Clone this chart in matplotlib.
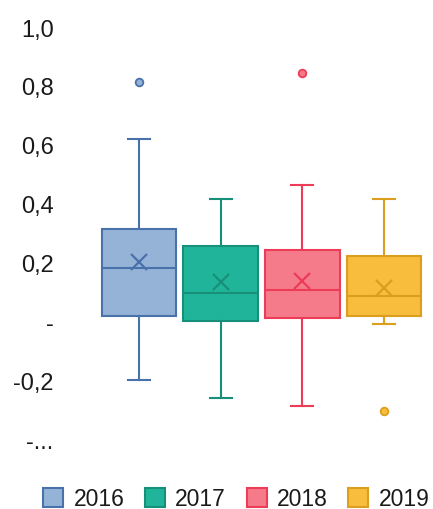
import matplotlib.pyplot as plt
from matplotlib.patches import Patch

plt.rcParams['font.family'] = ['Liberation Sans', 'DejaVu Sans']

# values
years = ["2016", "2017", "2018", "2019"]
q1 = [0.020, 0.003, 0.014, 0.020]
q3 = [0.315, 0.258, 0.244, 0.224]
med = [0.183, 0.100, 0.108, 0.088]
mean = [0.203, 0.135, 0.139, 0.115]
whislo = [-0.197, -0.258, -0.285, -0.007]
whishi = [0.620, 0.417, 0.464, 0.417]
fliers = [[0.813], [], [0.844], [-0.302]]

fills = ["#95b3d7", "#20b59a", "#f57b8b", "#f8bd3c"]
edges = ["#4a72aa", "#178f79", "#ec3c57", "#dc9e1e"]

yticks = [-0.4, -0.2, 0.0, 0.2, 0.4, 0.6, 0.8, 1.0]
ytick_labels = ["-...", "-0,2", "-", "0,2", "0,4", "0,6", "0,8", "1,0"]

fig = plt.figure(figsize=(4.33, 5.10), dpi=100)
ax = fig.add_axes([98 / 433, 69 / 510, 327 / 433, 413 / 510])

for i, y in enumerate(years):
    st = [dict(med=med[i], q1=q1[i], q3=q3[i], whislo=whislo[i],
               whishi=whishi[i], mean=mean[i], fliers=fliers[i], label=y)]
    ec = edges[i]
    ax.bxp(st, positions=[i], widths=0.91, capwidths=0.27,
           patch_artist=True, showmeans=True,
           boxprops=dict(facecolor=fills[i], edgecolor=ec, linewidth=1.5),
           medianprops=dict(color=ec, linewidth=1.5),
           whiskerprops=dict(color=ec, linewidth=1.5),
           capprops=dict(color=ec, linewidth=1.5),
           meanprops=dict(marker='x', markeredgecolor=ec, markersize=12,
                          markeredgewidth=1.6),
           flierprops=dict(marker='o', markerfacecolor=fills[i],
                           markeredgecolor=ec, markersize=5.5,
                           markeredgewidth=1.3))

ax.set_xlim(-0.5, 3.5)
ax.set_ylim(-0.4, 1.0)
ax.set_yticks(yticks)
ax.set_yticklabels(ytick_labels)
ax.set_xticks([])
ax.tick_params(axis='y', length=0, pad=32, labelsize=17, labelcolor="#1a1a1a")
for s in ax.spines.values():
    s.set_visible(False)

handles = [Patch(facecolor=fills[i], edgecolor=edges[i], linewidth=1.5)
           for i in range(4)]
fig.legend(handles, years, loc='center', bbox_to_anchor=(0.546, 0.02),
           ncol=4, frameon=False, fontsize=16.5, handlelength=0.87,
           handleheight=0.9, handletextpad=0.45, columnspacing=0.9,
           borderpad=0, labelcolor="#1a1a1a")

fig.savefig("out.png", dpi=100)
